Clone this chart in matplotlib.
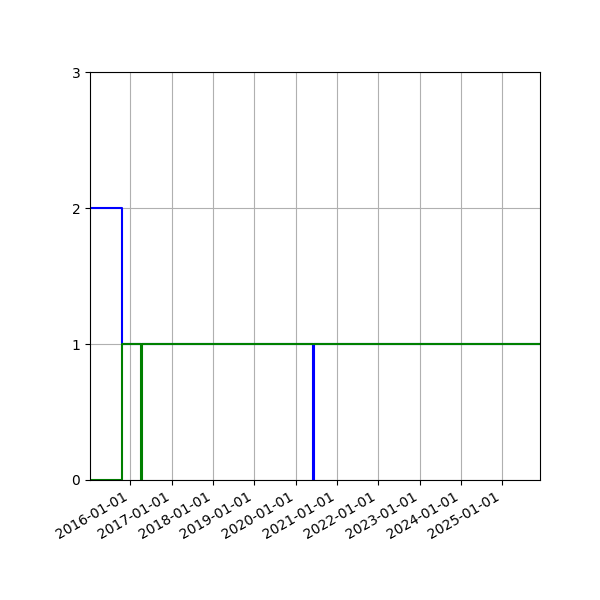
import matplotlib
matplotlib.use('Agg')
import matplotlib.pyplot as plt
import matplotlib.dates as mdates
import pandas as pd

# Step series
blue_dates = ['2015-01-09', '2015-10-15', '2020-06-05', '2020-06-09', '2025-12-01']
blue_values = [2, 1, 0, 1, 1]
green_dates = ['2015-01-09', '2015-10-15', '2016-04-05', '2016-04-09', '2025-12-01']
green_values = [0, 1, 0, 1, 1]

blue_x = pd.to_datetime(blue_dates)
green_x = pd.to_datetime(green_dates)

fig, ax = plt.subplots(figsize=(6, 6), dpi=100)
ax.plot(blue_x, blue_values, color='blue', drawstyle='steps-post', linewidth=1.5)
ax.plot(green_x, green_values, color='green', drawstyle='steps-post', linewidth=1.5)

ax.set_xlim(blue_x.min(), blue_x.max())
ax.set_ylim(0, 3)
ax.set_yticks([0, 1, 2, 3])
ax.xaxis.set_major_locator(mdates.YearLocator())
ax.xaxis.set_major_formatter(mdates.DateFormatter('%Y-%m-%d'))
ax.grid(True)

fig.autofmt_xdate()
fig.subplots_adjust(left=0.15, right=0.9, top=0.88, bottom=0.2)
fig.savefig('out.png', dpi=100)
